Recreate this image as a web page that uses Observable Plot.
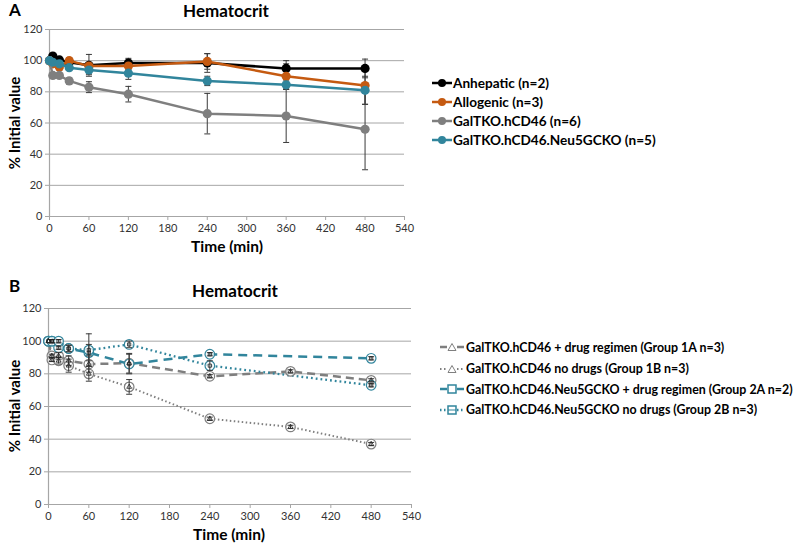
<!DOCTYPE html>
<html>
<head>
<meta charset="utf-8">
<script src="https://cdn.jsdelivr.net/npm/d3@7"></script>
<script src="https://cdn.jsdelivr.net/npm/@observablehq/plot@0.6"></script>
<style>
  html, body { margin: 0; padding: 0; background: #fff; }
  #root { position: relative; width: 800px; height: 549px; overflow: hidden; font-family: Lato, "Open Sans", sans-serif; color: #000; }
  .abs { position: absolute; white-space: nowrap; line-height: 1.1; }
  .panel { font-weight: bold; font-size: 17px; }
  .title { font-weight: bold; font-size: 17px; transform: translate(-50%, -50%); }
  .xt { font-weight: bold; font-size: 15.5px; transform: translate(-50%, -50%); }
  .yt { font-weight: bold; font-size: 15px; transform: translate(-50%, -50%) rotate(-90deg); }
  .leg { display: flex; align-items: center; font-weight: bold; }
  .leg svg { margin-right: 1px; }
  svg text { font-family: Lato, "Open Sans", sans-serif; }
</style>
</head>
<body>
<div id="root"></div>
<script>
// ---------- data ----------
const xTicks = [0, 60, 120, 180, 240, 300, 360, 420, 480, 540];
const yTicks = [0, 20, 40, 60, 80, 100, 120];

// Panel A
const timesA = [0, 5, 15, 30, 60, 120, 240, 360, 480];
const anhepatic    = [100, 103, 100.5, 99, 97, 98.5, 98.5, 95, 95];
const anhepaticErr = [null, null, null, null, 7, 3, 6, 5, 6];
const allogenic    = [100, 98, 96, 100, 96.5, 96.5, 99.5, 90, 84];
const allogenicErr = [null, null, 2, 2, 2, 2, 5, 8, 12];
const galtko       = [100, 90.5, 90.5, 87, 83, 78.5, 66, 64.5, 56];
const galtkoErr    = [null, null, 1, 2, 3.5, 5, 13, 17, 26];
const neu5         = [100, 99, 98, 95.5, 94, 92, 87, 84.5, 81];
const neu5Err      = [null, null, 1, 1, 3, 4, 3, 3, 9];
const seriesA = ["Anhepatic (n=2)", "Allogenic (n=3)", "GalTKO.hCD46 (n=6)", "GalTKO.hCD46.Neu5GCKO (n=5)"];

// Panel B
const timesB = [0, 5, 15, 30, 60, 120, 240, 360, 480];
const g1A    = [100, 91, 91, 88, 86, 86.5, 78.5, 81.5, 76];
const g1AErr = [null, 1, 2, 3, 5, 6, 1, 1, 1];
const g1B    = [100, 88.5, 88, 85, 80, 72, 52.5, 47.5, 37];
const g1BErr = [null, 1, 2, 4, 4.5, 4.5, 1, 1, 1];
const g2A    = [100, 100, 96, 95.5, 93, 86, 92, null, 89.5];
const g2AErr = [null, 1, 1, 2, 5, 6, 1, null, 1];
const g2B    = [100, 100, 100, 95.5, 94.5, 98, 85, null, 73];
const g2BErr = [null, 1, 1, 2, 10, 2, 3, null, 1];
const seriesB = [
  "GalTKO.hCD46 + drug regimen (Group 1A n=3)",
  "GalTKO.hCD46 no drugs (Group 1B n=3)",
  "GalTKO.hCD46.Neu5GCKO + drug regimen (Group 2A n=2)",
  "GalTKO.hCD46.Neu5GCKO no drugs (Group 2B n=3)"
];

// ---------- helpers ----------
const BLACK = "#000000", ORANGE = "#C55A11", GRAY = "#7F7F7F", TEAL = "#31859C";
const GRID = "#A6A6A6", ERR = "#3a3a3a";

function rows(times, vals, errs) {
  return times.map((t, i) => ({t, v: vals[i], e: errs ? errs[i] : null}))
              .filter(d => d.v != null);
}
function errRows(times, vals, errs) {
  return rows(times, vals, errs).filter(d => d.e != null).map(d => ({t: d.t, lo: d.v - d.e, hi: d.v + d.e}));
}
const hline = { draw(ctx, size) { const r = Math.sqrt(size / Math.PI); ctx.moveTo(-r, 0); ctx.lineTo(r, 0); } };

function errMarks(data) {
  return [
    Plot.ruleX(data, {x: "t", y1: "lo", y2: "hi", stroke: ERR, strokeWidth: 1}),
    Plot.dot(data, {x: "t", y: "lo", symbol: hline, r: 3, stroke: ERR, strokeWidth: 1}),
    Plot.dot(data, {x: "t", y: "hi", symbol: hline, r: 3, stroke: ERR, strokeWidth: 1})
  ];
}
function frameMarks() {
  return [
    Plot.gridY(yTicks, {stroke: GRID, strokeOpacity: 1, strokeWidth: 1}),
    Plot.ruleX([0], {stroke: GRID, strokeWidth: 1.2}),
    Plot.axisX(xTicks, {tickSize: 4, tickPadding: 4, fontSize: 11, stroke: GRID, fill: "#333", label: null}),
    Plot.axisY(yTicks, {tickSize: 4, tickPadding: 3, fontSize: 11, stroke: GRID, fill: "#333", label: null})
  ];
}

const root = document.getElementById("root");
function place(el, left, top) { el.classList.add("abs"); el.style.left = left + "px"; el.style.top = top + "px"; root.appendChild(el); return el; }
function textDiv(cls, txt, left, top) { const d = document.createElement("div"); d.className = cls; d.textContent = txt; return place(d, left, top); }

// ---------- Panel A ----------
const aSeries = [
  {name: seriesA[0], vals: anhepatic, errs: anhepaticErr, color: BLACK},
  {name: seriesA[1], vals: allogenic, errs: allogenicErr, color: ORANGE},
  {name: seriesA[2], vals: galtko, errs: galtkoErr, color: GRAY},
  {name: seriesA[3], vals: neu5, errs: neu5Err, color: TEAL}
];
const plotA = Plot.plot({
  width: 420, height: 270,
  marginLeft: 49, marginRight: 16, marginTop: 29, marginBottom: 54,
  x: {domain: [0, 540], label: null},
  y: {domain: [0, 120], label: null},
  marks: [
    ...frameMarks(),
    ...aSeries.flatMap(s => errMarks(errRows(timesA, s.vals, s.errs))),
    ...aSeries.flatMap(s => [
      Plot.line(rows(timesA, s.vals), {x: "t", y: "v", stroke: s.color, strokeWidth: 2.5}),
      Plot.dot(rows(timesA, s.vals), {x: "t", y: "v", fill: s.color, r: 4.6})
    ])
  ]
});
place(plotA, 0, 0);

textDiv("panel", "A", 9, 1);
textDiv("title", "Hematocrit", 226, 11);
textDiv("xt", "Time (min)", 227, 247);
textDiv("yt", "% Initial value", 14, 123);

// legend A
aSeries.forEach((s, i) => {
  const d = document.createElement("div");
  d.className = "leg";
  d.style.fontSize = "13.6px";
  d.innerHTML = `<svg width="20" height="12"><line x1="0" y1="6" x2="20" y2="6" stroke="${s.color}" stroke-width="2.5"/><circle cx="10" cy="6" r="4" fill="${s.color}"/></svg><span>${s.name}</span>`;
  place(d, 432, [84.5, 103.5, 122.5, 141.5][i] - 9);
});

// ---------- Panel B ----------
const bSeries = [
  {name: seriesB[0], vals: g1A, errs: g1AErr, color: GRAY, dash: "8,5", w: 2.5, sym: "triangle", solid: true},
  {name: seriesB[1], vals: g1B, errs: g1BErr, color: GRAY, dash: "1.5,2.5", w: 2, sym: "triangle", solid: false},
  {name: seriesB[2], vals: g2A, errs: g2AErr, color: TEAL, dash: "9,6", w: 2.5, sym: "square", solid: true},
  {name: seriesB[3], vals: g2B, errs: g2BErr, color: TEAL, dash: "1.8,3", w: 2.3, sym: "square", solid: false}
];
const plotB = Plot.plot({
  width: 430, height: 279,
  marginLeft: 48, marginRight: 19, marginTop: 38, marginBottom: 45,
  x: {domain: [0, 540], label: null},
  y: {domain: [0, 120], label: null},
  marks: [
    ...frameMarks(),
    ...bSeries.map(s => Plot.line(rows(timesB, s.vals), {x: "t", y: "v", stroke: s.color, strokeWidth: s.w, strokeDasharray: s.dash, strokeLinecap: "butt"})),
    ...bSeries.map(s => Plot.dot(rows(timesB, s.vals), {x: "t", y: "v", r: 4.8, stroke: s.color, strokeWidth: 1.2, fill: "white", fillOpacity: 0.7})),
    ...bSeries.flatMap(s => errMarks(errRows(timesB, s.vals, s.errs))),
    ...bSeries.map(s => Plot.dot(rows(timesB, s.vals), {x: "t", y: "v", r: 1.8, symbol: s.sym, stroke: "#222", strokeWidth: 0.8, fill: "none"}))
  ]
});
place(plotB, 0, 270);

textDiv("panel", "B", 9, 277);
textDiv("title", "Hematocrit", 235, 291);
textDiv("xt", "Time (min)", 229, 535);
textDiv("yt", "% Initial value", 14, 406);

// legend B
bSeries.forEach((s, i) => {
  const d = document.createElement("div");
  d.className = "leg";
  d.style.fontSize = "12.4px";
  const mark = s.sym === "triangle"
    ? `<path d="M12,2.5 L16,9.5 L8,9.5 Z" fill="white" stroke="${s.color}" stroke-width="1"/>`
    : `<rect x="8" y="2" width="8" height="8" fill="white" stroke="${s.color}" stroke-width="1.5"/>` + (i === 3 ? `<line x1="8" y1="6" x2="16" y2="6" stroke="${s.color}" stroke-width="1"/>` : "");
  const lineDash = s.solid ? "" : `stroke-dasharray="1.5,2.5"`;
  d.innerHTML = `<svg width="25" height="12"><line x1="0" y1="6" x2="7" y2="6" stroke="${s.color}" stroke-width="${s.w}" ${lineDash}/><line x1="17" y1="6" x2="24" y2="6" stroke="${s.color}" stroke-width="${s.w}" ${lineDash}/>${mark}</svg><span>${s.name}</span>`;
  place(d, 440, [348.5, 370, 390.5, 411][i] - 8);
});
</script>
</body>
</html>
